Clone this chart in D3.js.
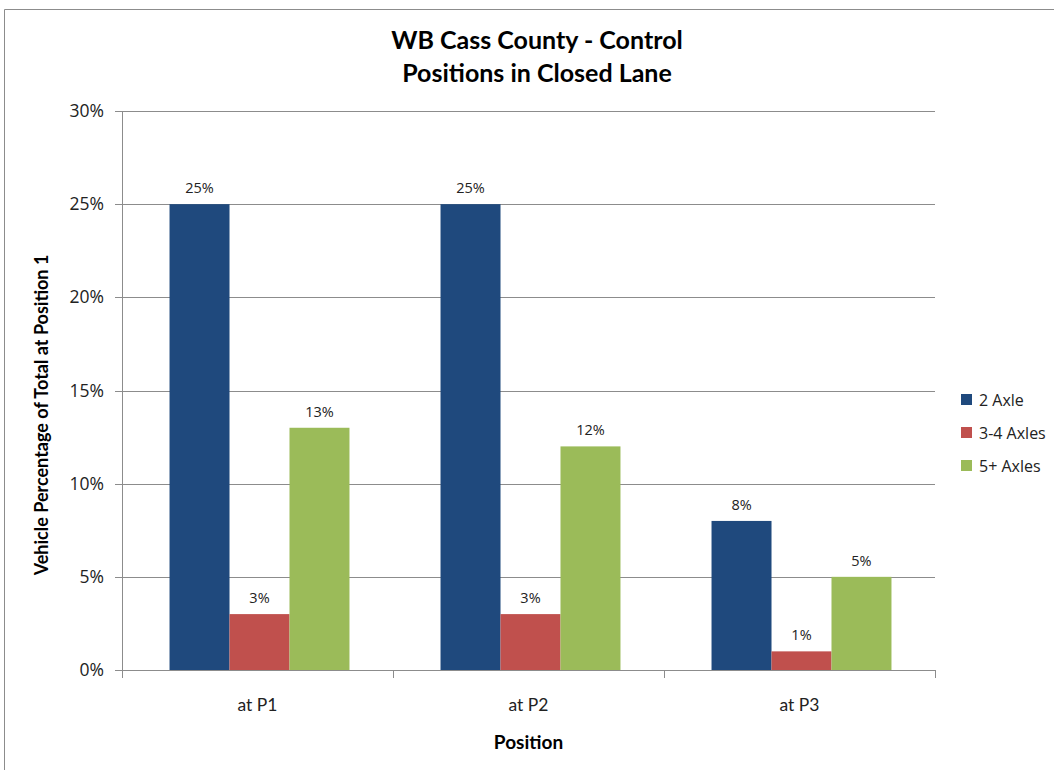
<!DOCTYPE html>
<html>
<head>
<meta charset="utf-8">
<script src="https://cdn.jsdelivr.net/npm/d3@7"></script>
<style>
  body { margin: 0; background: #fff; }
  text { font-family: Lato, "Open Sans", sans-serif; fill: #000; }
</style>
</head>
<body>
<script>
const categories = ['at P1', 'at P2', 'at P3']
const seriesNames = ['2 Axle', '3-4 Axles', '5+ Axles']
const axle2 = [25, 25, 8]
const axle34 = [3, 3, 1]
const axle5 = [13, 12, 5]
const yTicks = [0, 5, 10, 15, 20, 25, 30]
const colors = ['#1f497d', '#c0504d', '#9bbb59']

const dimensions = { width: 1054, height: 770 }
const margin = { left: 122, right: 119, top: 111, bottom: 100 }

const svg = d3.select('body').append('svg')
    .attr('width', dimensions.width)
    .attr('height', dimensions.height)

// chart frame
svg.append('path')
    .attr('d', 'M4.5,' + dimensions.height + ' V9.5 H' + dimensions.width)
    .attr('fill', 'none')
    .attr('stroke', '#8c8c8c')

const x = d3.scaleBand()
    .domain(categories)
    .range([margin.left + 2, dimensions.width - margin.right + 2])
    .paddingInner(0.336)
    .paddingOuter(0.168)

const xOuter = d3.scaleBand()
    .domain(categories)
    .range([margin.left, dimensions.width - margin.right])

const xSub = d3.scaleBand()
    .domain(seriesNames)
    .range([0, x.bandwidth()])

const y = d3.scaleLinear()
    .domain([0, 30])
    .range([dimensions.height - margin.bottom, margin.top])

// gridlines
svg.append('g')
    .selectAll('line')
    .data(yTicks)
    .enter()
    .append('line')
    .attr('x1', margin.left - 7)
    .attr('x2', dimensions.width - margin.right)
    .attr('y1', d => Math.round(y(d)) + 0.5)
    .attr('y2', d => Math.round(y(d)) + 0.5)
    .attr('stroke', '#8c8c8c')

// y axis line
svg.append('line')
    .attr('x1', margin.left + 0.5).attr('x2', margin.left + 0.5)
    .attr('y1', y(30)).attr('y2', y(0))
    .attr('stroke', '#8c8c8c')

// y tick labels
svg.append('g')
    .selectAll('text')
    .data(yTicks)
    .enter()
    .append('text')
    .attr('x', margin.left - 18)
    .attr('y', d => y(d) + 6)
    .attr('text-anchor', 'end')
    .style('font-family', '"Open Sans", sans-serif')
    .style('font-size', '17.5px')
    .style('fill', '#222')
    .text(d => d + '%')

// x category ticks
const xEdges = categories.map(c => xOuter(c)).concat([dimensions.width - margin.right])
svg.append('g')
    .selectAll('line')
    .data(xEdges)
    .enter()
    .append('line')
    .attr('x1', d => Math.round(d) + 0.5)
    .attr('x2', d => Math.round(d) + 0.5)
    .attr('y1', y(0))
    .attr('y2', y(0) + 8)
    .attr('stroke', '#8c8c8c')

// bars
const series = [axle2, axle34, axle5]
series.forEach(function (vals, si) {
    svg.append('g')
        .selectAll('rect')
        .data(vals)
        .enter()
        .append('rect')
        .attr('x', (d, i) => x(categories[i]) + xSub(seriesNames[si]))
        .attr('y', d => y(d))
        .attr('width', xSub.bandwidth())
        .attr('height', d => y(0) - y(d))
        .attr('fill', colors[si])

    svg.append('g')
        .selectAll('text')
        .data(vals)
        .enter()
        .append('text')
        .attr('x', (d, i) => x(categories[i]) + xSub(seriesNames[si]) + xSub.bandwidth() / 2)
        .attr('y', d => y(d) - 11)
        .attr('text-anchor', 'middle')
        .style('font-family', '"Open Sans", sans-serif')
        .style('font-size', '14.5px')
        .style('fill', '#222')
        .text(d => d + '%')
})

// x category labels
svg.append('g')
    .selectAll('text')
    .data(categories)
    .enter()
    .append('text')
    .attr('x', d => xOuter(d) + xOuter.bandwidth() / 2)
    .attr('y', 711)
    .attr('text-anchor', 'middle')
    .style('font-size', '17.5px')
    .style('fill', '#222')
    .text(d => d)

// axis titles
svg.append('text')
    .attr('x', xOuter(categories[1]) + xOuter.bandwidth() / 2)
    .attr('y', 749)
    .attr('text-anchor', 'middle')
    .style('font-size', '19px')
    .style('font-weight', 'bold')
    .text('Position')

svg.append('text')
    .attr('transform', 'translate(48,415) rotate(-90)')
    .attr('text-anchor', 'middle')
    .style('font-size', '18px')
    .style('font-weight', 'bold')
    .text('Vehicle Percentage of Total  at Position  1')

// title
const title = svg.append('text')
    .attr('text-anchor', 'middle')
    .style('font-size', '25px')
    .style('font-weight', 'bold')
title.append('tspan').attr('x', 537).attr('y', 49).text('WB Cass County - Control')
title.append('tspan').attr('x', 537).attr('y', 82).text('Positions in Closed Lane')

// legend
const legend = svg.append('g')
    .selectAll('g')
    .data(seriesNames)
    .enter()
    .append('g')
    .attr('transform', (d, i) => 'translate(961,' + (394 + i * 33) + ')')

legend.append('rect')
    .attr('width', 11)
    .attr('height', 11)
    .attr('fill', (d, i) => colors[i])

legend.append('text')
    .attr('x', 18)
    .attr('y', 12)
    .style('font-family', '"Open Sans", sans-serif')
    .style('font-size', '16px')
    .style('fill', '#222')
    .text(d => d)
</script>
</body>
</html>
